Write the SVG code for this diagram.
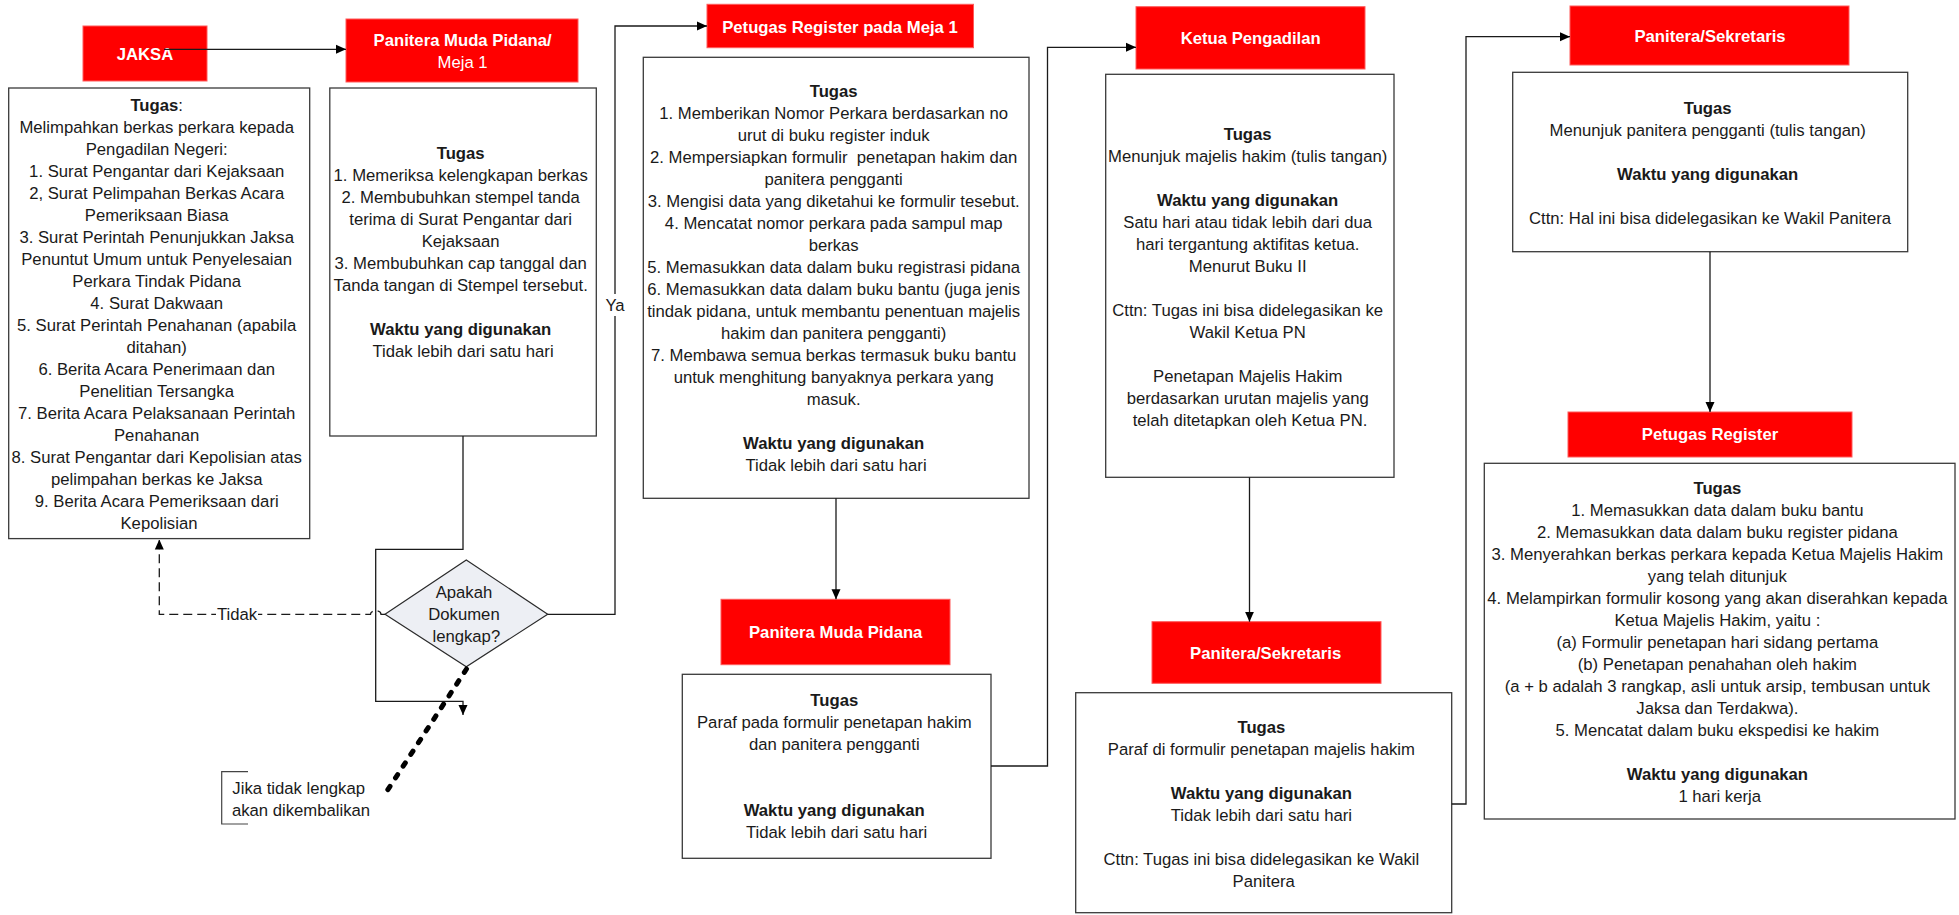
<svg xmlns="http://www.w3.org/2000/svg" width="1959" height="915" viewBox="0 0 1959 915">
  <defs>
    <marker id="arr" viewBox="0 0 10 10" refX="10" refY="5" markerWidth="10" markerHeight="10" markerUnits="userSpaceOnUse" orient="auto">
      <path d="M0,0.5 L10,5 L0,9.5 z" fill="#000"/>
    </marker>
    <style>
      text { font-family: "Liberation Sans", Arial, sans-serif; font-size: 16.7px; fill: #1a1a1a; text-anchor: middle; }
      .hdr rect { fill: #ff0000; stroke: #ff5a5a; stroke-width: 1; }
      .hdr text { fill: #ffffff; font-weight: bold; }
      .hdr .reg { font-weight: normal; }
      .box { fill: #ffffff; stroke: #3a3a3a; stroke-width: 1.3; }
      .b { font-weight: bold; }
      .wire { fill: none; stroke: #1a1a1a; stroke-width: 1.3; }
      .dash { fill: none; stroke: #1a1a1a; stroke-width: 1.3; stroke-dasharray: 9 5; }
      .dots { fill: none; stroke: #000; stroke-width: 5; stroke-dasharray: 4 10; stroke-linecap: round; }
      .lbl { fill: #ffffff; stroke: none; }
    </style>
  </defs>
  <rect width="1959" height="915" fill="#ffffff"/>

  <!-- JAKSA -->
  <g id="jaksa">
    <g class="hdr">
      <rect x="83" y="26" width="124" height="55"/>
      <text x="145" y="60">JAKSA</text>
    </g>
    <rect class="box" x="8.7" y="88" width="301" height="450.6"/>
    <text>
      <tspan x="159" y="110.7"><tspan class="b">Tugas</tspan>:</tspan>
      <tspan x="159" y="132.7">Melimpahkan berkas perkara kepada</tspan>
      <tspan x="159" y="154.7">Pengadilan Negeri:</tspan>
      <tspan x="159" y="176.7">1. Surat Pengantar dari Kejaksaan</tspan>
      <tspan x="159" y="198.7">2, Surat Pelimpahan Berkas Acara</tspan>
      <tspan x="159" y="220.7">Pemeriksaan Biasa</tspan>
      <tspan x="159" y="242.7">3. Surat Perintah Penunjukkan Jaksa</tspan>
      <tspan x="159" y="264.7">Penuntut Umum untuk Penyelesaian</tspan>
      <tspan x="159" y="286.7">Perkara Tindak Pidana</tspan>
      <tspan x="159" y="308.7">4. Surat Dakwaan</tspan>
      <tspan x="159" y="330.7">5. Surat Perintah Penahanan (apabila</tspan>
      <tspan x="159" y="352.7">ditahan)</tspan>
      <tspan x="159" y="374.7">6. Berita Acara Penerimaan dan</tspan>
      <tspan x="159" y="396.7">Penelitian Tersangka</tspan>
      <tspan x="159" y="418.7">7. Berita Acara Pelaksanaan Perintah</tspan>
      <tspan x="159" y="440.7">Penahanan</tspan>
      <tspan x="159" y="462.7">8. Surat Pengantar dari Kepolisian atas</tspan>
      <tspan x="159" y="484.7">pelimpahan berkas ke Jaksa</tspan>
      <tspan x="159" y="506.7">9. Berita Acara Pemeriksaan dari</tspan>
      <tspan x="159" y="528.7">Kepolisian</tspan>
    </text>
  </g>

  <!-- Panitera Muda Pidana / Meja 1 -->
  <g id="panitera-meja1">
    <g class="hdr">
      <rect x="346" y="19" width="232" height="63"/>
      <text x="462.6" y="45.5">Panitera Muda Pidana/</text>
      <text class="reg" x="462.6" y="67.5">Meja 1</text>
    </g>
    <rect class="box" x="329.8" y="88" width="266.5" height="348"/>
    <text>
      <tspan class="b" x="463" y="158.5">Tugas</tspan>
      <tspan x="463" y="180.5">1. Memeriksa kelengkapan berkas</tspan>
      <tspan x="463" y="202.5">2. Membubuhkan stempel tanda</tspan>
      <tspan x="463" y="224.5">terima di Surat Pengantar dari</tspan>
      <tspan x="463" y="246.5">Kejaksaan</tspan>
      <tspan x="463" y="268.5">3. Membubuhkan cap tanggal dan</tspan>
      <tspan x="463" y="290.5">Tanda tangan di Stempel tersebut.</tspan>
      <tspan class="b" x="463" y="334.5">Waktu yang digunakan</tspan>
      <tspan x="463" y="356.5">Tidak lebih dari satu hari</tspan>
    </text>
  </g>

  <!-- Decision -->
  <g id="cek-dokumen">
    <polygon points="466.3,560 547.7,614.3 466.3,666.7 385,614.3" fill="#edeff4" stroke="#2a2a2a" stroke-width="1.2"/>
    <text>
      <tspan x="466.3" y="597.5">Apakah</tspan>
      <tspan x="466.3" y="619.5">Dokumen</tspan>
      <tspan x="466.3" y="641.5">lengkap?</tspan>
    </text>
  </g>

  <!-- Annotation -->
  <g id="catatan">
    <path d="M248,771.7 H221.7 V824 H248" fill="none" stroke="#444" stroke-width="1.2"/>
    <text>
      <tspan x="301" y="793.5">Jika tidak lengkap</tspan>
      <tspan x="301" y="815.5">akan dikembalikan</tspan>
    </text>
  </g>

  <!-- Petugas Register pada Meja 1 -->
  <g id="petugas-meja1">
    <g class="hdr">
      <rect x="707" y="4.3" width="266.5" height="43.4"/>
      <text x="840" y="32.5">Petugas Register pada Meja 1</text>
    </g>
    <rect class="box" x="643.3" y="57.3" width="385.7" height="441"/>
    <text>
      <tspan class="b" x="836" y="96.5">Tugas</tspan>
      <tspan x="836" y="118.5">1. Memberikan Nomor Perkara berdasarkan no</tspan>
      <tspan x="836" y="140.5">urut di buku register induk</tspan>
      <tspan x="836" y="162.5" xml:space="preserve">2. Mempersiapkan formulir  penetapan hakim dan</tspan>
      <tspan x="836" y="184.5">panitera pengganti</tspan>
      <tspan x="836" y="206.5">3. Mengisi data yang diketahui ke formulir tesebut.</tspan>
      <tspan x="836" y="228.5">4. Mencatat nomor perkara pada sampul map</tspan>
      <tspan x="836" y="250.5">berkas</tspan>
      <tspan x="836" y="272.5">5. Memasukkan data dalam buku registrasi pidana</tspan>
      <tspan x="836" y="294.5">6. Memasukkan data dalam buku bantu (juga jenis</tspan>
      <tspan x="836" y="316.5">tindak pidana, untuk membantu penentuan majelis</tspan>
      <tspan x="836" y="338.5">hakim dan panitera pengganti)</tspan>
      <tspan x="836" y="360.5">7. Membawa semua berkas termasuk buku bantu</tspan>
      <tspan x="836" y="382.5">untuk menghitung banyaknya perkara yang</tspan>
      <tspan x="836" y="404.5">masuk.</tspan>
      <tspan class="b" x="836" y="448.5">Waktu yang digunakan</tspan>
      <tspan x="836" y="470.5">Tidak lebih dari satu hari</tspan>
    </text>
  </g>

  <!-- Panitera Muda Pidana -->
  <g id="panitera-muda-pidana">
    <g class="hdr">
      <rect x="721" y="599.3" width="229" height="65.4"/>
      <text x="835.7" y="638">Panitera Muda Pidana</text>
    </g>
    <rect class="box" x="682.3" y="674.3" width="308.7" height="184"/>
    <text>
      <tspan class="b" x="836.6" y="705.5">Tugas</tspan>
      <tspan x="836.6" y="727.5">Paraf pada formulir penetapan hakim</tspan>
      <tspan x="836.6" y="749.5">dan panitera pengganti</tspan>
      <tspan class="b" x="836.6" y="815.5">Waktu yang digunakan</tspan>
      <tspan x="836.6" y="837.5">Tidak lebih dari satu hari</tspan>
    </text>
  </g>

  <!-- Ketua Pengadilan -->
  <g id="ketua-pengadilan">
    <g class="hdr">
      <rect x="1136" y="6.7" width="229" height="62.3"/>
      <text x="1250.7" y="44">Ketua Pengadilan</text>
    </g>
    <rect class="box" x="1105.7" y="74.3" width="288.3" height="403"/>
    <text>
      <tspan class="b" x="1250" y="139.5">Tugas</tspan>
      <tspan x="1250" y="161.5">Menunjuk majelis hakim (tulis tangan)</tspan>
      <tspan class="b" x="1250" y="205.5">Waktu yang digunakan</tspan>
      <tspan x="1250" y="227.5">Satu hari atau tidak lebih dari dua</tspan>
      <tspan x="1250" y="249.5">hari tergantung aktifitas ketua.</tspan>
      <tspan x="1250" y="271.5">Menurut Buku II</tspan>
      <tspan x="1250" y="315.5">Cttn: Tugas ini bisa didelegasikan ke</tspan>
      <tspan x="1250" y="337.5">Wakil Ketua PN</tspan>
      <tspan x="1250" y="381.5">Penetapan Majelis Hakim</tspan>
      <tspan x="1250" y="403.5">berdasarkan urutan majelis yang</tspan>
      <tspan x="1250" y="425.5">telah ditetapkan oleh Ketua PN.</tspan>
    </text>
  </g>

  <!-- Panitera/Sekretaris (paraf) -->
  <g id="panitera-sekretaris-paraf">
    <g class="hdr">
      <rect x="1152" y="621.7" width="229" height="61.6"/>
      <text x="1265.7" y="658.5">Panitera/Sekretaris</text>
    </g>
    <rect class="box" x="1075.7" y="692.7" width="376" height="220"/>
    <text>
      <tspan class="b" x="1263.7" y="732.5">Tugas</tspan>
      <tspan x="1263.7" y="754.5">Paraf di formulir penetapan majelis hakim</tspan>
      <tspan class="b" x="1263.7" y="798.5">Waktu yang digunakan</tspan>
      <tspan x="1263.7" y="820.5">Tidak lebih dari satu hari</tspan>
      <tspan x="1263.7" y="864.5">Cttn: Tugas ini bisa didelegasikan ke Wakil</tspan>
      <tspan x="1263.7" y="886.5">Panitera</tspan>
    </text>
  </g>

  <!-- Panitera/Sekretaris (penunjukan) -->
  <g id="panitera-sekretaris-tunjuk">
    <g class="hdr">
      <rect x="1570" y="6" width="279" height="59"/>
      <text x="1710" y="41.5">Panitera/Sekretaris</text>
    </g>
    <rect class="box" x="1512.7" y="72.3" width="395" height="179.4"/>
    <text>
      <tspan class="b" x="1710" y="113.5">Tugas</tspan>
      <tspan x="1710" y="135.5">Menunjuk panitera pengganti (tulis tangan)</tspan>
      <tspan class="b" x="1710" y="179.5">Waktu yang digunakan</tspan>
      <tspan x="1710" y="223.5">Cttn: Hal ini bisa didelegasikan ke Wakil Panitera</tspan>
    </text>
  </g>

  <!-- Petugas Register -->
  <g id="petugas-register">
    <g class="hdr">
      <rect x="1568" y="412" width="284" height="45"/>
      <text x="1710" y="440">Petugas Register</text>
    </g>
    <rect class="box" x="1484.3" y="463.3" width="470.7" height="355.7"/>
    <text>
      <tspan class="b" x="1719.7" y="494">Tugas</tspan>
      <tspan x="1719.7" y="516">1. Memasukkan data dalam buku bantu</tspan>
      <tspan x="1719.7" y="538">2. Memasukkan data dalam buku register pidana</tspan>
      <tspan x="1719.7" y="560">3. Menyerahkan berkas perkara kepada Ketua Majelis Hakim</tspan>
      <tspan x="1719.7" y="582">yang telah ditunjuk</tspan>
      <tspan x="1719.7" y="604">4. Melampirkan formulir kosong yang akan diserahkan kepada</tspan>
      <tspan x="1719.7" y="626">Ketua Majelis Hakim, yaitu :</tspan>
      <tspan x="1719.7" y="648">(a) Formulir penetapan hari sidang pertama</tspan>
      <tspan x="1719.7" y="670">(b) Penetapan penahahan oleh hakim</tspan>
      <tspan x="1719.7" y="692">(a + b adalah 3 rangkap, asli untuk arsip, tembusan untuk</tspan>
      <tspan x="1719.7" y="714">Jaksa dan Terdakwa).</tspan>
      <tspan x="1719.7" y="736">5. Mencatat dalam buku ekspedisi ke hakim</tspan>
      <tspan class="b" x="1719.7" y="780">Waktu yang digunakan</tspan>
      <tspan x="1719.7" y="802">1 hari kerja</tspan>
    </text>
  </g>

  <!-- Connectors -->
  <g id="connectors">
    <path class="wire" d="M164,49.3 H346" marker-end="url(#arr)"/>
    <path class="wire" d="M463,436 V549.3 H375.7 V701.3 H463 V715" marker-end="url(#arr)"/>
    <path class="dash" d="M385,614.3 H381 A5,3.5 0 0 0 370.5,614.3 H159.3 V539.5" marker-end="url(#arr)"/>
    <rect class="lbl" x="216" y="604" width="42" height="20"/>
    <text x="237" y="620">Tidak</text>
    <path class="wire" d="M547.7,614.3 H615 V26 H707" marker-end="url(#arr)"/>
    <rect class="lbl" x="604" y="294" width="22" height="22"/>
    <text x="615" y="311">Ya</text>
    <path class="wire" d="M836,498.3 V599.3" marker-end="url(#arr)"/>
    <path class="wire" d="M991,766 H1047.5 V47.3 H1136" marker-end="url(#arr)"/>
    <path class="wire" d="M1249.5,477.3 V621.7" marker-end="url(#arr)"/>
    <path class="wire" d="M1451.7,804 H1466 V36.7 H1570" marker-end="url(#arr)"/>
    <path class="wire" d="M1710,251.7 V412" marker-end="url(#arr)"/>
    <path class="dots" d="M466.5,669 L385,794"/>
  </g>
</svg>
